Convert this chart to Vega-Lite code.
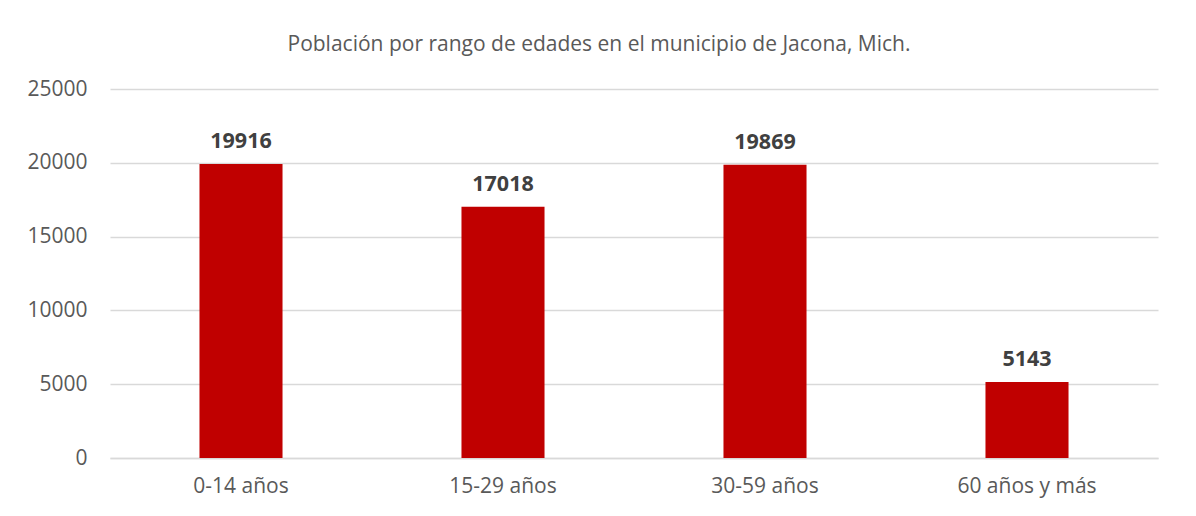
{
  "$schema": "https://vega.github.io/schema/vega-lite/v6.json",
  "autosize": {"type": "none"},
  "padding": {"left": 110, "top": 89, "right": 38, "bottom": 58},
  "width": 1048,
  "height": 369,
  "background": "white",
  "title": {
    "text": "Población por rango de edades en el municipio de Jacona, Mich.",
    "font": "Open Sans",
    "fontSize": 21,
    "fontWeight": "normal",
    "color": "#595959",
    "anchor": "middle",
    "dx": -35,
    "offset": 23
  },
  "data": {
    "values": [
      {"grupo": "0-14 años", "poblacion": 19916},
      {"grupo": "15-29 años", "poblacion": 17018},
      {"grupo": "30-59 años", "poblacion": 19869},
      {"grupo": "60 años y más", "poblacion": 5143}
    ]
  },
  "config": {"view": {"stroke": null}},
  "encoding": {
    "x": {
      "field": "grupo",
      "type": "nominal",
      "sort": null,
      "scale": {"paddingInner": 0.683, "paddingOuter": 0.3415},
      "axis": {
        "title": null,
        "labelAngle": 0,
        "labelFont": "Open Sans",
        "labelFontSize": 21,
        "labelColor": "#595959",
        "labelPadding": 17,
        "ticks": false,
        "domainColor": "#d9d9d9",
        "domainWidth": 1.5,
        "grid": false
      }
    },
    "y": {
      "field": "poblacion",
      "type": "quantitative",
      "scale": {"domain": [0, 25000], "nice": false},
      "axis": {
        "title": null,
        "values": [0, 5000, 10000, 15000, 20000, 25000],
        "format": "d",
        "labelFont": "Open Sans",
        "labelFontSize": 21,
        "labelColor": "#595959",
        "labelPadding": 23,
        "ticks": false,
        "domain": false,
        "gridColor": "#d9d9d9",
        "gridWidth": 1.5
      }
    }
  },
  "layer": [
    {"mark": {"type": "bar", "color": "#C00000"}},
    {
      "mark": {
        "type": "text",
        "baseline": "bottom",
        "dy": -11,
        "font": "Open Sans",
        "fontSize": 21.5,
        "fontWeight": "bold",
        "color": "#404040"
      },
      "encoding": {"text": {"field": "poblacion", "type": "quantitative", "format": "d"}}
    }
  ]
}
